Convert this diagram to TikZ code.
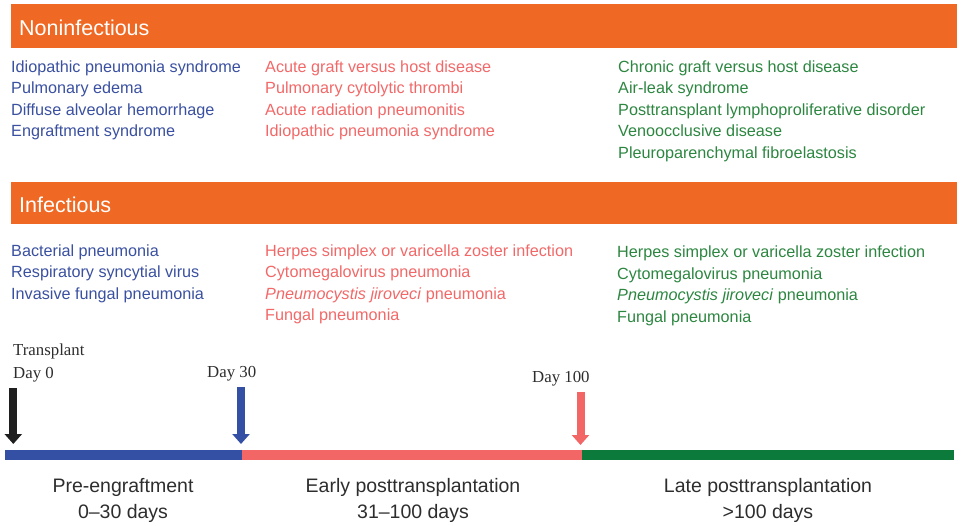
\documentclass[tikz,border=0pt]{standalone}
\usepackage{fontspec}
\setmainfont{Liberation Sans}
\newfontfamily\serifface{Liberation Serif}
\usetikzlibrary{arrows.meta}
\definecolor{hdrorange}{RGB}{240,105,36}
\definecolor{preblue}{RGB}{58,80,160}
\definecolor{earlyred}{RGB}{242,104,104}
\definecolor{lategreen}{RGB}{44,134,64}
\definecolor{barblue}{RGB}{52,80,165}
\definecolor{barred}{RGB}{242,102,102}
\definecolor{bargreen}{RGB}{12,122,58}
\definecolor{labgray}{RGB}{45,45,45}
\tikzset{
  hdr/.style={fill=hdrorange, draw=none},
  hdrtext/.style={anchor=base west, inner sep=0pt, text=white, font=\fontsize{21.5}{26}\selectfont},
  item/.style={anchor=base west, inner sep=0pt, font=\fontsize{16.2}{19}\selectfont},
  preitem/.style={item, text=preblue},
  earlyitem/.style={item, text=earlyred},
  lateitem/.style={item, text=lategreen},
  daylab/.style={anchor=base west, inner sep=0pt, text=labgray, font=\serifface\fontsize{16.8}{19}\selectfont},
  phase/.style={align=center, inner sep=0pt, text=labgray, font=\fontsize{19.5}{26}\selectfont},
  tlarrow/.style={line width=8pt, -{Triangle[width=17pt,length=10pt]}},
  tlbar/.style={line width=10pt}
}
\begin{document}
\begin{tikzpicture}[x=1pt,y=-1pt]
\useasboundingbox (0,0) rectangle (964,525);
% headers
\fill[hdr] (11,4) rectangle (957,48);
\node[hdrtext] (hnon) at (19,35) {Noninfectious};
\fill[hdr] (11,182) rectangle (957,224);
\node[hdrtext] (hinf) at (19,212) {Infectious};
% noninfectious lists
\node[preitem] (n11) at (11,72) {Idiopathic pneumonia syndrome};
\node[preitem] (n12) at (11,93.6) {Pulmonary edema};
\node[preitem] (n13) at (11,115.2) {Diffuse alveolar hemorrhage};
\node[preitem] (n14) at (11,136.8) {Engraftment syndrome};
\node[earlyitem] (n21) at (265,72) {Acute graft versus host disease};
\node[earlyitem] (n22) at (265,93.6) {Pulmonary cytolytic thrombi};
\node[earlyitem] (n23) at (265,115.2) {Acute radiation pneumonitis};
\node[earlyitem] (n24) at (265,136.8) {Idiopathic pneumonia syndrome};
\node[lateitem] (n31) at (618,72) {Chronic graft versus host disease};
\node[lateitem] (n32) at (618,93.6) {Air-leak syndrome};
\node[lateitem] (n33) at (618,115.2) {Posttransplant lymphoproliferative disorder};
\node[lateitem] (n34) at (618,136.8) {Venoocclusive disease};
\node[lateitem] (n35) at (618,158.4) {Pleuroparenchymal fibroelastosis};
% infectious lists
\node[preitem] (i11) at (11,256) {Bacterial pneumonia};
\node[preitem] (i12) at (11,277.6) {Respiratory syncytial virus};
\node[preitem] (i13) at (11,299.2) {Invasive fungal pneumonia};
\node[earlyitem] (i21) at (265,256) {Herpes simplex or varicella zoster infection};
\node[earlyitem] (i22) at (265,277.6) {Cytomegalovirus pneumonia};
\node[earlyitem] (i23) at (265,299.2) {\textit{Pneumocystis jiroveci} pneumonia};
\node[earlyitem] (i24) at (265,320.8) {Fungal pneumonia};
\node[lateitem] (i31) at (617,257.5) {Herpes simplex or varicella zoster infection};
\node[lateitem] (i32) at (617,279.1) {Cytomegalovirus pneumonia};
\node[lateitem] (i33) at (617,300.7) {\textit{Pneumocystis jiroveci} pneumonia};
\node[lateitem] (i34) at (617,322.3) {Fungal pneumonia};
% timeline labels
\node[daylab] (tp) at (13,355) {Transplant};
\node[daylab] (d0) at (13,378) {Day 0};
\node[daylab] (d30) at (207,377) {Day 30};
\node[daylab] (d100) at (532,382) {Day 100};
% arrows
\coordinate (a0s) at (13.3,388);
\coordinate (a0e) at (13.3,444);
\coordinate (a30s) at (241,387);
\coordinate (a30e) at (241,444);
\coordinate (a100s) at (580.5,392);
\coordinate (a100e) at (580.5,445);
\draw[tlarrow, color=black!88] (a0s) -- (a0e);
\draw[tlarrow, color=barblue] (a30s) -- (a30e);
\draw[tlarrow, color=barred] (a100s) -- (a100e);
% bar
\coordinate (b0) at (5,455);
\coordinate (b1) at (242,455);
\coordinate (b2) at (582,455);
\coordinate (b3) at (954,455);
\draw[tlbar, barblue] (b0) -- (b1);
\draw[tlbar, barred] (b1) -- (b2);
\draw[tlbar, bargreen] (b2) -- (b3);
% phase labels
\node[phase, anchor=base] (p1) at (123,492) {Pre-engraftment};
\node[phase, anchor=base] (p1d) at (123,518) {0--30 days};
\node[phase, anchor=base] (p2) at (413,492) {Early posttransplantation};
\node[phase, anchor=base] (p2d) at (413,518) {31--100 days};
\node[phase, anchor=base] (p3) at (768,492) {Late posttransplantation};
\node[phase, anchor=base] (p3d) at (768,518) {>100 days};
\end{tikzpicture}
\end{document}
